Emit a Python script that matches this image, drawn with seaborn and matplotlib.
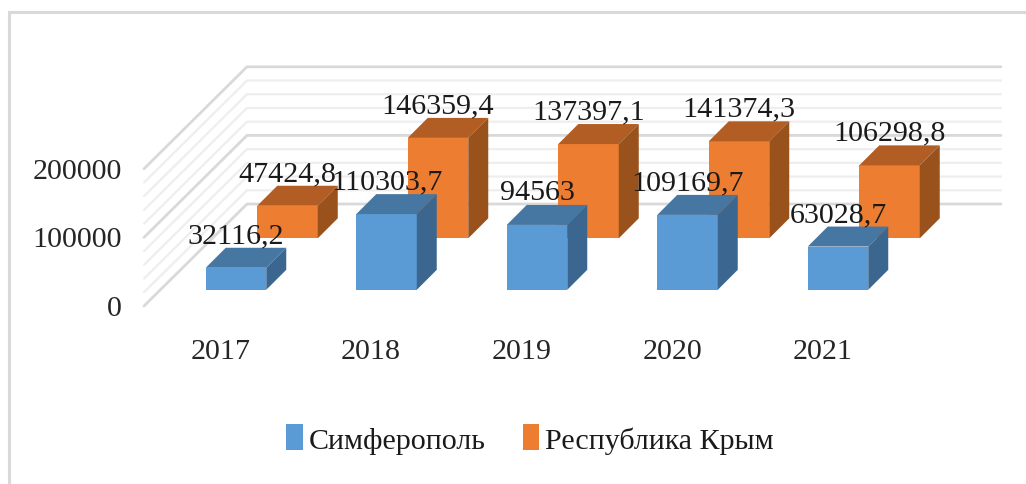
import numpy as np
import matplotlib
matplotlib.use("Agg")
import matplotlib.pyplot as plt
from matplotlib.patches import Patch, Polygon
import seaborn as sns

years = ["2017", "2018", "2019", "2020", "2021"]
simferopol = [32116.2, 110303.7, 94563, 109169.7, 63028.7]
crimea = [47424.8, 146359.4, 137397.1, 141374.3, 106298.8]
simferopol_labels = ["32116,2", "110303,7", "94563", "109169,7", "63028,7"]
crimea_labels = ["47424,8", "146359,4", "137397,1", "141374,3", "106298,8"]
y_ticks = [0, 100000, 200000]
wall_levels = np.arange(0, 200001, 20000)

W, H = 1026, 485
STEP = 150.5          # px between categories
PX_PER_UNIT = 0.000686  # px per value unit
DEPTH = 20            # 3d depth of a bar, px
BAR = 60.5 / STEP

sns.set_theme(style="white")
plt.rcParams["font.family"] = ["Liberation Serif", "DejaVu Serif"]
plt.rcParams["text.color"] = "#1a1a1a"
FS = 21.6

fig = plt.figure(figsize=(W / 100, H / 100), dpi=100)


def make_axes(x0, base, left=0, right=W, top=0, bottom=H):
    # axes whose category 0 sits at pixel x0 and value 0 at pixel row base
    ax = fig.add_axes([left / W, 1 - bottom / H, (right - left) / W, (bottom - top) / H])
    ax.patch.set_alpha(0)
    ax._lims = ((left - x0) / STEP, (right - x0) / STEP,
                (base - bottom) / PX_PER_UNIT, (base - top) / PX_PER_UNIT)
    return ax


def set_lims(ax):
    ax.set_xlim(ax._lims[0], ax._lims[1])
    ax.set_ylim(ax._lims[2], ax._lims[3])


def bars_3d(ax, values, labels, color, top_color, side_color):
    sns.barplot(x=years, y=values, color=color, saturation=1, width=BAR, ax=ax,
                edgecolor="none", linewidth=0)
    set_lims(ax)
    dx = DEPTH / STEP
    dy = DEPTH / PX_PER_UNIT
    for i, v in enumerate(values):
        l, r = i - BAR / 2, i + BAR / 2
        ax.add_patch(Polygon([(l, v), (r, v), (r + dx, v + dy), (l + dx, v + dy)],
                             fc=top_color, ec="none"))
        ax.add_patch(Polygon([(r, 0), (r, v), (r + dx, v + dy), (r + dx, dy)],
                             fc=side_color, ec="none"))
        ax.annotate(labels[i], (i + dx / 2 - 10 / STEP, v + dy), xytext=(0, 4), textcoords="offset points",
                    ha="center", va="baseline", fontsize=FS, annotation_clip=False)
    ax.set_axis_off()


# outer frame
frame = fig.add_axes([0, 0, 1, 1])
frame.set_xlim(0, W)
frame.set_ylim(H, 0)
frame.plot([8.5, 8.5, W], [H, 12.5, 12.5], color="#d9d9d9", lw=2.2, solid_joinstyle="miter")
frame.set_axis_off()

# back wall and left wall gridlines
wall = make_axes(247, 205)
wall.set_xlim(0, W)
wall.set_ylim(wall._lims[2], wall._lims[3])
for v in wall_levels:
    major = v % 100000 == 0
    c = "#d9d9d9" if major else "#eeeeee"
    lw = 2.0 if major else 1.6
    wall.plot([144, 247, 1001], [v - 102 / PX_PER_UNIT, v, v], color=c, lw=lw, solid_joinstyle="miter")
wall.set_axis_off()

# tick labels
ticks = make_axes(220.5, 306, left=122, right=1000, top=60, bottom=333)
ticks.set_xticks(range(len(years)), years)
ticks.set_yticks(y_ticks, [str(t) for t in y_ticks])
set_lims(ticks)
ticks.tick_params(axis="both", length=0, labelsize=FS, pad=0)
ticks.tick_params(axis="x", pad=4)
for s in ticks.spines.values():
    s.set_visible(False)
ticks.grid(False)

back = make_axes(287.5, 239.3)
bars_3d(back, crimea, crimea_labels, "#ed7d31", "#b15d23", "#99521c")

front = make_axes(236, 290.8)
bars_3d(front, simferopol, simferopol_labels, "#5b9bd5", "#4676a2", "#3a668f")

handles = [Patch(fc="#5b9bd5", ec="none", label="Симферополь"),
           Patch(fc="#ed7d31", ec="none", label="Республика Крым")]
fig.legend(handles=handles, ncol=2, frameon=False, fontsize=FS, loc="center",
           bbox_to_anchor=(530 / W, 1 - 440 / H), handlelength=0.55, handleheight=0.95,
           handletextpad=0.2, columnspacing=1.25)

fig.savefig("out.png", dpi=100)
